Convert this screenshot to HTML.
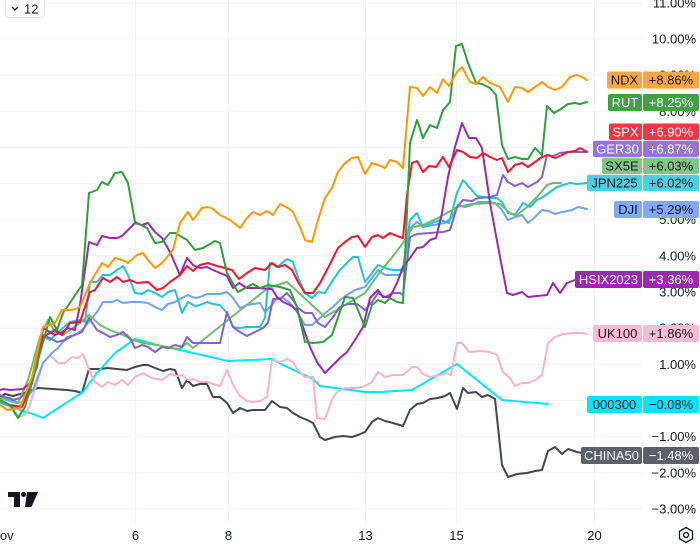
<!DOCTYPE html>
<html><head><meta charset="utf-8"><style>
html,body{margin:0;padding:0;background:#fff;}
svg{display:block;font-family:"Liberation Sans",sans-serif;}
</style></head><body>
<svg width="700" height="546" viewBox="0 0 700 546" xmlns="http://www.w3.org/2000/svg">
<rect width="700" height="546" fill="#fff"/>
<g stroke="#f0f3fa" stroke-width="1">
<line x1="0" x2="642" y1="2.85" y2="2.85"/><line x1="0" x2="642" y1="39" y2="39"/><line x1="0" x2="642" y1="75.15" y2="75.15"/><line x1="0" x2="642" y1="111.3" y2="111.3"/><line x1="0" x2="642" y1="147.45" y2="147.45"/><line x1="0" x2="642" y1="183.6" y2="183.6"/><line x1="0" x2="642" y1="219.75" y2="219.75"/><line x1="0" x2="642" y1="255.9" y2="255.9"/><line x1="0" x2="642" y1="292.05" y2="292.05"/><line x1="0" x2="642" y1="328.2" y2="328.2"/><line x1="0" x2="642" y1="364.35" y2="364.35"/><line x1="0" x2="642" y1="400.5" y2="400.5"/><line x1="0" x2="642" y1="436.65" y2="436.65"/><line x1="0" x2="642" y1="472.8" y2="472.8"/><line x1="0" x2="642" y1="508.95" y2="508.95"/>
<line x1="135.5" x2="135.5" y1="0" y2="522"/><line x1="228.5" x2="228.5" y1="0" y2="522"/><line x1="365.5" x2="365.5" y1="0" y2="522"/><line x1="456.5" x2="456.5" y1="0" y2="522"/><line x1="594.5" x2="594.5" y1="0" y2="522"/>
</g>
<g font-size="13" fill="#131722" text-anchor="end">
<text x="696" y="7.5">11.00%</text><text x="696" y="43.5">10.00%</text><text x="696" y="79.6">9.00%</text><text x="696" y="115.8">8.00%</text><text x="696" y="151.9">7.00%</text><text x="696" y="188">6.00%</text><text x="696" y="224.2">5.00%</text><text x="696" y="260.4">4.00%</text><text x="696" y="296.5">3.00%</text><text x="696" y="332.7">2.00%</text><text x="696" y="368.8">1.00%</text><text x="696" y="405">0.00%</text><text x="696" y="441.1">−1.00%</text><text x="696" y="477.3">−2.00%</text><text x="696" y="513.4">−3.00%</text>
</g>
<g fill="none" stroke-width="2" stroke-linejoin="round" stroke-linecap="round">
<polyline stroke="#434651" points="0,397 5,394 13,396 27,392 38,388 53,389 67,390 75,391 82,393 89,369 100,369 107,368 117,369 127,370 135,367 143,365 148,365 155,368 163,371 170,369 175,370 182,388 187,380 193,386 200,384 207,384 213,397 220,397 227,403 233,413 240,408 247,411 253,410 265,410 272,401 280,407 287,408 293,413 300,417 307,420 313,423 320,437 325,440 335,437 343,436 352,437 358,435 365,432 372,422 378,418 385,421 393,423 403,426 410,410 417,404 423,403 430,399 438,398 445,396 450,393 457,409 463,388 468,393 476,392 482,397 488,395 495,399 502,465 508,477 517,474 527,473 535,471 542,470 548,451 555,447 562,454 568,449 577,452 582,453"/>
<polyline stroke="#00e5ff" points="0,402 20,410 30,413 43,418 83,392 97,373 115,353 135,339 157,345 180,350 228,361 272,359 283,365 300,373 313,379 320,386 343,389 365,392 380,392 412,390 457,364 502,400 548,404"/>
<polyline stroke="#f8b3cb" points="0,400 10,407 20,417 27,413 33,395 38,380 43,363 50,355 58,363 65,363 72,357 78,358 83,354 90,372 95,382 102,387 108,382 115,385 122,380 128,385 135,377 143,373 152,378 162,380 170,374 177,376 182,375 188,380 193,379 200,382 207,382 213,384 220,386 227,370 233,385 240,396 247,401 253,402 260,401 267,397 272,360 280,362 287,359 293,362 298,370 305,377 313,377 317,418 325,419 332,400 337,392 345,388 353,388 363,387 372,382 378,372 385,377 393,375 403,375 412,367 417,367 423,374 430,377 440,375 447,373 451,375 457,343 462,343 469,352 480,351 490,352 497,355 503,372 510,378 515,386 522,383 528,383 535,380 542,375 548,343 555,337 563,334 573,333 582,333 587,334"/>
<polyline stroke="#6ea2f8" points="0,398 17,403 23,402 33,390 43,363 52,353 58,348 67,337 75,335 82,330 88,323 97,312 103,302 112,302 117,300 123,303 132,302 140,302 148,303 155,307 162,310 168,304 175,302 182,298 188,295 195,298 200,297 207,294 213,294 220,294 227,292 233,298 240,308 247,305 253,304 260,303 265,312 272,305 277,298 283,298 290,303 297,312 305,325 312,325 318,320 325,313 333,307 340,300 347,295 355,290 365,287 372,278 378,270 385,275 393,275 400,275 403,270 410,228 417,222 423,227 433,225 445,223 452,217 458,205 465,207 472,205 478,202 488,202 495,203 502,210 508,220 515,217 522,215 528,223 535,217 542,210 548,211 555,214 562,212 572,210 578,207 587,209"/>
<polyline stroke="#22c3d9" points="0,403 17,408 23,403 33,380 43,337 50,340 58,332 70,322 80,320 85,322 90,282 97,282 103,275 110,275 117,270 123,266 128,275 135,293 142,294 148,290 155,293 162,297 168,292 175,290 182,313 188,302 195,306 200,305 207,302 213,304 220,305 227,313 233,327 240,328 247,327 253,327 260,327 265,318 270,263 277,267 282,263 287,259 293,262 298,277 305,293 312,298 318,292 325,293 333,280 340,270 347,263 353,257 358,257 365,282 372,273 378,265 385,268 393,270 400,270 403,268 410,220 417,213 423,227 432,223 440,220 449,223 457,193 463,180 470,188 477,196 483,197 490,198 497,198 502,202 508,213 515,215 523,203 530,207 537,200 543,197 550,192 557,187 563,185 570,183 577,184 587,183"/>
<polyline stroke="#6cbd6e" points="0,398 10,398 18,403 28,380 40,337 48,320 55,332 63,335 70,330 80,323 89,315 100,325 110,330 123,335 133,340 143,343 157,345 170,348 180,349 187,343 193,348 268,288 287,282 325,317 365,293 380,272 390,260 403,243 413,227 423,225 440,217 457,207 472,204 490,203 500,204 510,213 517,215 527,207 537,197 547,185 553,183 561,183"/>
<polyline stroke="#8561c8" points="0,395 13,400 20,398 30,390 37,363 43,335 50,338 57,342 65,340 72,336 82,332 89,318 97,330 103,333 110,337 117,335 123,332 130,338 135,348 142,345 148,347 155,352 162,347 168,348 175,345 182,347 187,337 193,343 200,343 207,343 213,343 220,343 227,312 233,327 240,332 247,336 255,332 263,328 268,323 273,299 280,299 287,293 293,300 298,308 305,313 312,313 318,323 325,327 333,317 340,307 348,304 357,304 365,310 372,302 378,293 385,297 393,293 400,293 403,295 410,237 417,234 430,233 443,232 450,230 457,207 463,200 472,201 478,198 490,197 497,195 503,175 508,182 515,186 522,183 528,187 537,182 542,177 547,155 553,156 560,153 568,152 577,152 587,152"/>
<polyline stroke="#9c27b0" points="0,390 3,389 10,390 23,389 30,383 37,367 43,328 50,332 55,335 62,332 68,328 75,330 80,305 89,242 97,245 102,236 110,238 117,238 122,236 128,230 135,223 142,225 148,223 155,232 162,238 170,252 180,275 187,258 193,265 200,268 207,267 213,270 220,273 227,276 233,288 239,283 247,288 257,288 272,289 277,297 283,302 290,305 297,310 303,327 310,347 317,362 325,373 333,365 340,358 347,352 355,340 363,327 370,298 378,290 383,297 390,297 397,283 403,267 410,258 417,248 423,247 430,240 436,238 442,213 448,177 455,147 462,123 469,138 476,138 482,148 490,203 500,257 507,293 513,295 522,292 528,297 537,296 547,295 553,283 560,293 567,283 575,280"/>
<polyline stroke="#f0162c" points="0,400 10,405 22,407 32,383 43,337 55,330 62,335 70,323 80,322 90,292 95,290 103,278 110,282 117,277 123,282 130,280 137,283 148,282 157,290 163,288 170,282 180,275 187,266 193,271 200,265 208,263 217,266 225,268 232,270 239,279 247,273 255,268 265,270 272,263 278,267 285,265 292,270 298,282 305,293 313,293 320,283 327,270 333,258 338,248 345,242 352,237 358,236 365,247 372,237 378,235 383,238 390,233 397,236 403,238 407,195 412,163 417,161 423,172 429,166 436,167 443,157 449,167 457,150 463,152 470,157 477,158 483,153 490,157 497,160 502,158 508,172 515,165 522,163 528,167 535,162 542,157 548,155 555,158 562,155 568,152 575,151 580,148 587,152"/>
<polyline stroke="#2f9e3b" points="0,400 10,405 18,418 25,407 50,317 57,330 63,313 82,285 89,193 97,190 102,182 108,185 115,173 122,172 128,183 135,222 147,228 155,243 162,242 170,233 175,233 187,240 195,250 203,248 215,241 220,243 227,273 238,292 247,287 253,284 260,288 268,285 280,287 290,290 297,307 305,342 313,343 323,342 332,335 345,297 353,298 365,327 372,305 378,300 385,303 390,298 397,302 403,303 410,143 417,120 423,138 430,125 437,128 443,110 450,102 456,46 462,44 468,63 476,83 482,84 490,88 496,95 502,145 508,159 515,157 522,159 528,159 535,148 542,155 547,106 554,113 561,109 568,104 575,103 580,104 587,102"/>
<polyline stroke="#ff9800" points="0,405 7,410 20,408 32,377 43,327 55,323 62,310 72,310 80,307 90,283 102,263 108,267 115,258 122,260 128,263 137,255 143,253 148,260 155,268 162,263 173,250 180,223 188,212 193,220 202,208 208,207 213,209 220,215 230,220 240,228 247,218 253,212 260,215 267,211 273,215 280,204 288,208 293,212 300,227 305,240 312,242 318,220 325,198 332,188 338,172 345,163 352,158 358,157 365,174 372,163 378,165 385,168 390,160 397,162 403,168 410,87 417,88 423,96 430,87 437,93 443,79 449,86 457,72 462,67 470,82 476,84 483,77 490,83 500,87 508,102 515,87 522,88 528,92 542,82 548,87 555,90 562,87 570,77 577,75 582,77 587,80"/>
</g>
<g font-size="13" text-anchor="middle">
<rect x="607" y="71.5" width="35" height="17" rx="2" fill="#f9a73e"/><rect x="643" y="71.5" width="56" height="17" rx="2" fill="#f9a73e"/>
<text x="624.5" y="84.5" fill="#131722">NDX</text><text x="671" y="84.5" fill="#131722">+8.86%</text>
<rect x="608" y="94" width="34" height="17" rx="2" fill="#43a047"/><rect x="643" y="94" width="56" height="17" rx="2" fill="#43a047"/>
<text x="625" y="107" fill="#fff">RUT</text><text x="671" y="107" fill="#fff">+8.25%</text>
<rect x="609" y="123.5" width="33" height="16.5" rx="2" fill="#f23645"/><rect x="643" y="123.5" width="56" height="16.5" rx="2" fill="#f23645"/>
<text x="625.5" y="136.3" fill="#fff">SPX</text><text x="671" y="136.3" fill="#fff">+6.90%</text>
<rect x="593" y="140.7" width="49" height="16.3" rx="2" fill="#9575cd"/><rect x="643" y="140.7" width="56" height="16.3" rx="2" fill="#9575cd"/>
<text x="617.5" y="153.4" fill="#fff">GER30</text><text x="671" y="153.4" fill="#fff">+6.87%</text>
<rect x="602" y="157.7" width="40" height="16.3" rx="2" fill="#81c784"/><rect x="643" y="157.7" width="56" height="16.3" rx="2" fill="#81c784"/>
<text x="622" y="170.4" fill="#131722">SX5E</text><text x="671" y="170.4" fill="#131722">+6.03%</text>
<rect x="587" y="174.7" width="55" height="16.5" rx="2" fill="#4dd0e1"/><rect x="643" y="174.7" width="56" height="16.5" rx="2" fill="#4dd0e1"/>
<text x="614.5" y="187.5" fill="#131722">JPN225</text><text x="671" y="187.5" fill="#131722">+6.02%</text>
<rect x="614" y="201" width="28" height="17" rx="2" fill="#7eaaf8"/><rect x="643" y="201" width="56" height="17" rx="2" fill="#7eaaf8"/>
<text x="628" y="214" fill="#131722">DJI</text><text x="671" y="214" fill="#131722">+5.29%</text>
<rect x="575" y="271" width="67" height="17" rx="2" fill="#9c27b0"/><rect x="643" y="271" width="56" height="17" rx="2" fill="#9c27b0"/>
<text x="608.5" y="284" fill="#fff">HSIX2023</text><text x="671" y="284" fill="#fff">+3.36%</text>
<rect x="593" y="325" width="49" height="17" rx="2" fill="#f8bbd0"/><rect x="643" y="325" width="56" height="17" rx="2" fill="#f8bbd0"/>
<text x="617.5" y="338" fill="#131722">UK100</text><text x="671" y="338" fill="#131722">+1.86%</text>
<rect x="587" y="396" width="55" height="17" rx="2" fill="#00e5ff"/><rect x="643" y="396" width="56" height="17" rx="2" fill="#00e5ff"/>
<text x="614.5" y="409" fill="#131722">000300</text><text x="671" y="409" fill="#131722">−0.08%</text>
<rect x="581" y="447" width="61" height="17" rx="2" fill="#5d606b"/><rect x="643" y="447" width="56" height="17" rx="2" fill="#5d606b"/>
<text x="611.5" y="460" fill="#fff">CHINA50</text><text x="671" y="460" fill="#fff">−1.48%</text>
</g>
<g font-size="13" fill="#131722" text-anchor="middle">
<text x="-9.5" y="540" text-anchor="start">Nov</text>
<text x="135.5" y="540">6</text><text x="228.5" y="540">8</text><text x="365.5" y="540">13</text><text x="456.5" y="540">15</text><text x="594.5" y="540">20</text>
</g>
<g transform="translate(686,535)" fill="none" stroke="#131722" stroke-width="1.3">
<polygon points="0,-7.5 6.5,-3.75 6.5,3.75 0,7.5 -6.5,3.75 -6.5,-3.75"/>
<circle cx="0" cy="0" r="2.5"/>
</g>
<g fill="#131722">
<path d="M8,492 H20 V507 H14 V497 H8 Z"/>
<circle cx="23.5" cy="494.5" r="2.5"/>
<path d="M27,492 H38 L31.5,507 H25 Z"/>
</g>
<rect x="5.5" y="-3.5" width="39" height="21" rx="4" fill="#fff" stroke="#e0e3eb"/>
<path d="M12,7 L15,10 L18,7" fill="none" stroke="#131722" stroke-width="1.3"/>
<text x="24" y="13.5" font-size="13" fill="#131722">12</text>
</svg>
</body></html>
